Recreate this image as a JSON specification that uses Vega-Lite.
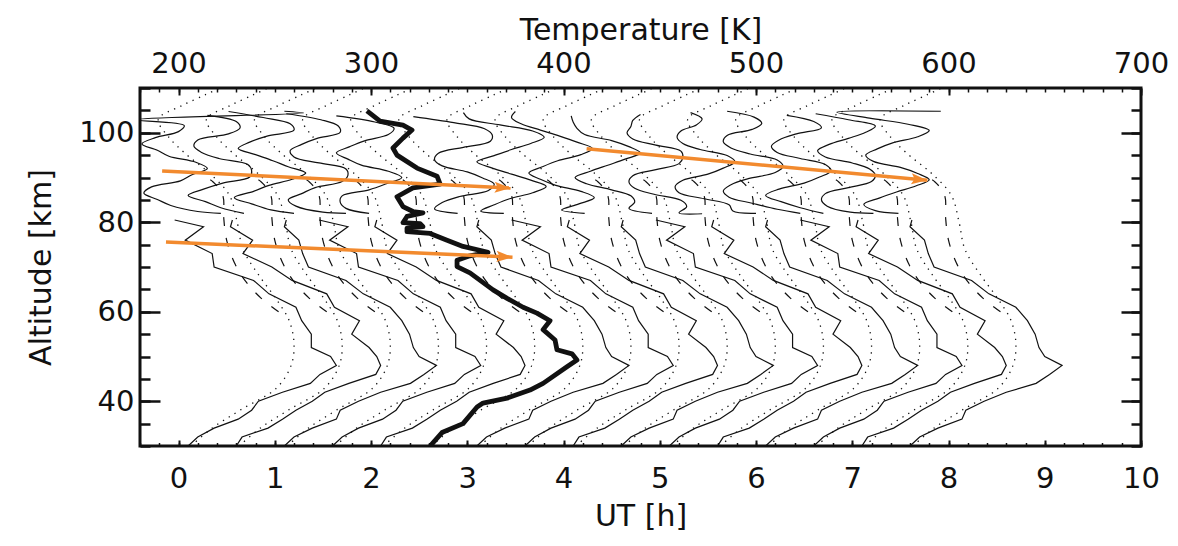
{
  "$schema": "https://vega.github.io/schema/vega-lite/v6.json",
  "width": 1001,
  "height": 358,
  "autosize": {"type": "none"},
  "padding": {"left": 140, "top": 88, "right": 37, "bottom": 100},
  "background": "white",
  "config": {
    "view": {"stroke": "#111111", "strokeWidth": 3},
    "font": "DejaVu Sans",
    "axis": {
      "domain": false, "grid": false,
      "labelFont": "DejaVu Sans", "titleFont": "DejaVu Sans",
      "labelFontSize": 29, "titleFontSize": 30, "titleFontWeight": "normal",
      "labelColor": "#111111", "titleColor": "#111111", "tickColor": "#111111",
      "labelFlush": false, "labelOverlap": false
    }
  },
  "datasets": {
    "dot": [
      {"p":0,"a":30,"t":206.5},{"p":0,"a":34,"t":217.5},{"p":0,"a":38,"t":232},{"p":0,"a":43,"t":251},{"p":0,"a":48,"t":258.5},{"p":0,"a":53,"t":260},{"p":0,"a":58,"t":257.5},{"p":0,"a":63,"t":250.5},{"p":0,"a":68,"t":242},{"p":0,"a":74,"t":233.5},{"p":0,"a":80,"t":230.5},{"p":0,"a":86,"t":226.5},{"p":0,"a":91,"t":216},{"p":0,"a":95,"t":204.5},{"p":0,"a":99,"t":195},{"p":0,"a":103,"t":189.5},{"p":0,"a":106,"t":201.5},{"p":0,"a":108.5,"t":214},{"p":0,"a":110,"t":221.5},
      {"p":1,"a":30,"t":231.5},{"p":1,"a":34,"t":242.5},{"p":1,"a":38,"t":257},{"p":1,"a":43,"t":276},{"p":1,"a":48,"t":283.5},{"p":1,"a":53,"t":285},{"p":1,"a":58,"t":282.5},{"p":1,"a":63,"t":275.5},{"p":1,"a":68,"t":267},{"p":1,"a":74,"t":258.5},{"p":1,"a":80,"t":255.5},{"p":1,"a":86,"t":251.5},{"p":1,"a":91,"t":241},{"p":1,"a":95,"t":229.5},{"p":1,"a":99,"t":220},{"p":1,"a":103,"t":214.5},{"p":1,"a":106,"t":226.5},{"p":1,"a":108.5,"t":239},{"p":1,"a":110,"t":246.5},
      {"p":2,"a":30,"t":256.5},{"p":2,"a":34,"t":267.5},{"p":2,"a":38,"t":282},{"p":2,"a":43,"t":301},{"p":2,"a":48,"t":308.5},{"p":2,"a":53,"t":310},{"p":2,"a":58,"t":307.5},{"p":2,"a":63,"t":300.5},{"p":2,"a":68,"t":292},{"p":2,"a":74,"t":283.5},{"p":2,"a":80,"t":280.5},{"p":2,"a":86,"t":276.5},{"p":2,"a":91,"t":266},{"p":2,"a":95,"t":254.5},{"p":2,"a":99,"t":245},{"p":2,"a":103,"t":239.5},{"p":2,"a":106,"t":251.5},{"p":2,"a":108.5,"t":264},{"p":2,"a":110,"t":271.5},
      {"p":3,"a":30,"t":281.5},{"p":3,"a":34,"t":292.5},{"p":3,"a":38,"t":307},{"p":3,"a":43,"t":326},{"p":3,"a":48,"t":333.5},{"p":3,"a":53,"t":335},{"p":3,"a":58,"t":332.5},{"p":3,"a":63,"t":325.5},{"p":3,"a":68,"t":317},{"p":3,"a":74,"t":308.5},{"p":3,"a":80,"t":305.5},{"p":3,"a":86,"t":301.5},{"p":3,"a":91,"t":291},{"p":3,"a":95,"t":279.5},{"p":3,"a":99,"t":270},{"p":3,"a":103,"t":264.5},{"p":3,"a":106,"t":276.5},{"p":3,"a":108.5,"t":289},{"p":3,"a":110,"t":296.5},
      {"p":4,"a":30,"t":306.5},{"p":4,"a":34,"t":317.5},{"p":4,"a":38,"t":332},{"p":4,"a":43,"t":351},{"p":4,"a":48,"t":358.5},{"p":4,"a":53,"t":360},{"p":4,"a":58,"t":357.5},{"p":4,"a":63,"t":350.5},{"p":4,"a":68,"t":342},{"p":4,"a":74,"t":333.5},{"p":4,"a":80,"t":330.5},{"p":4,"a":86,"t":326.5},{"p":4,"a":91,"t":316},{"p":4,"a":95,"t":304.5},{"p":4,"a":99,"t":295},{"p":4,"a":103,"t":289.5},{"p":4,"a":106,"t":301.5},{"p":4,"a":108.5,"t":314},{"p":4,"a":110,"t":321.5},
      {"p":5,"a":30,"t":331.5},{"p":5,"a":34,"t":342.5},{"p":5,"a":38,"t":357},{"p":5,"a":43,"t":376},{"p":5,"a":48,"t":383.5},{"p":5,"a":53,"t":385},{"p":5,"a":58,"t":382.5},{"p":5,"a":63,"t":375.5},{"p":5,"a":68,"t":367},{"p":5,"a":74,"t":358.5},{"p":5,"a":80,"t":355.5},{"p":5,"a":86,"t":351.5},{"p":5,"a":91,"t":341},{"p":5,"a":95,"t":329.5},{"p":5,"a":99,"t":320},{"p":5,"a":103,"t":314.5},{"p":5,"a":106,"t":326.5},{"p":5,"a":108.5,"t":339},{"p":5,"a":110,"t":346.5},
      {"p":6,"a":30,"t":356.5},{"p":6,"a":34,"t":367.5},{"p":6,"a":38,"t":382},{"p":6,"a":43,"t":401},{"p":6,"a":48,"t":408.5},{"p":6,"a":53,"t":410},{"p":6,"a":58,"t":407.5},{"p":6,"a":63,"t":400.5},{"p":6,"a":68,"t":392},{"p":6,"a":74,"t":383.5},{"p":6,"a":80,"t":380.5},{"p":6,"a":86,"t":376.5},{"p":6,"a":91,"t":366},{"p":6,"a":95,"t":354.5},{"p":6,"a":99,"t":345},{"p":6,"a":103,"t":339.5},{"p":6,"a":106,"t":351.5},{"p":6,"a":108.5,"t":364},{"p":6,"a":110,"t":371.5},
      {"p":7,"a":30,"t":381.5},{"p":7,"a":34,"t":392.5},{"p":7,"a":38,"t":407},{"p":7,"a":43,"t":426},{"p":7,"a":48,"t":433.5},{"p":7,"a":53,"t":435},{"p":7,"a":58,"t":432.5},{"p":7,"a":63,"t":425.5},{"p":7,"a":68,"t":417},{"p":7,"a":74,"t":408.5},{"p":7,"a":80,"t":405.5},{"p":7,"a":86,"t":401.5},{"p":7,"a":91,"t":391},{"p":7,"a":95,"t":379.5},{"p":7,"a":99,"t":370},{"p":7,"a":103,"t":364.5},{"p":7,"a":106,"t":376.5},{"p":7,"a":108.5,"t":389},{"p":7,"a":110,"t":396.5},
      {"p":8,"a":30,"t":406.5},{"p":8,"a":34,"t":417.5},{"p":8,"a":38,"t":432},{"p":8,"a":43,"t":451},{"p":8,"a":48,"t":458.5},{"p":8,"a":53,"t":460},{"p":8,"a":58,"t":457.5},{"p":8,"a":63,"t":450.5},{"p":8,"a":68,"t":442},{"p":8,"a":74,"t":433.5},{"p":8,"a":80,"t":430.5},{"p":8,"a":86,"t":426.5},{"p":8,"a":91,"t":416},{"p":8,"a":95,"t":404.5},{"p":8,"a":99,"t":395},{"p":8,"a":103,"t":389.5},{"p":8,"a":106,"t":401.5},{"p":8,"a":108.5,"t":414},{"p":8,"a":110,"t":421.5},
      {"p":9,"a":30,"t":431.5},{"p":9,"a":34,"t":442.5},{"p":9,"a":38,"t":457},{"p":9,"a":43,"t":476},{"p":9,"a":48,"t":483.5},{"p":9,"a":53,"t":485},{"p":9,"a":58,"t":482.5},{"p":9,"a":63,"t":475.5},{"p":9,"a":68,"t":467},{"p":9,"a":74,"t":458.5},{"p":9,"a":80,"t":455.5},{"p":9,"a":86,"t":451.5},{"p":9,"a":91,"t":441},{"p":9,"a":95,"t":429.5},{"p":9,"a":99,"t":420},{"p":9,"a":103,"t":414.5},{"p":9,"a":106,"t":426.5},{"p":9,"a":108.5,"t":439},{"p":9,"a":110,"t":446.5},
      {"p":10,"a":30,"t":456.5},{"p":10,"a":34,"t":467.5},{"p":10,"a":38,"t":482},{"p":10,"a":43,"t":501},{"p":10,"a":48,"t":508.5},{"p":10,"a":53,"t":510},{"p":10,"a":58,"t":507.5},{"p":10,"a":63,"t":500.5},{"p":10,"a":68,"t":492},{"p":10,"a":74,"t":483.5},{"p":10,"a":80,"t":480.5},{"p":10,"a":86,"t":476.5},{"p":10,"a":91,"t":466},{"p":10,"a":95,"t":454.5},{"p":10,"a":99,"t":445},{"p":10,"a":103,"t":439.5},{"p":10,"a":106,"t":451.5},{"p":10,"a":108.5,"t":464},{"p":10,"a":110,"t":471.5},
      {"p":11,"a":30,"t":481.5},{"p":11,"a":34,"t":492.5},{"p":11,"a":38,"t":507},{"p":11,"a":43,"t":526},{"p":11,"a":48,"t":533.5},{"p":11,"a":53,"t":535},{"p":11,"a":58,"t":532.5},{"p":11,"a":63,"t":525.5},{"p":11,"a":68,"t":517},{"p":11,"a":74,"t":508.5},{"p":11,"a":80,"t":505.5},{"p":11,"a":86,"t":501.5},{"p":11,"a":91,"t":491},{"p":11,"a":95,"t":479.5},{"p":11,"a":99,"t":470},{"p":11,"a":103,"t":464.5},{"p":11,"a":106,"t":476.5},{"p":11,"a":108.5,"t":489},{"p":11,"a":110,"t":496.5},
      {"p":12,"a":30,"t":506.5},{"p":12,"a":34,"t":517.5},{"p":12,"a":38,"t":532},{"p":12,"a":43,"t":551},{"p":12,"a":48,"t":558.5},{"p":12,"a":53,"t":560},{"p":12,"a":58,"t":557.5},{"p":12,"a":63,"t":550.5},{"p":12,"a":68,"t":542},{"p":12,"a":74,"t":533.5},{"p":12,"a":80,"t":530.5},{"p":12,"a":86,"t":526.5},{"p":12,"a":91,"t":516},{"p":12,"a":95,"t":504.5},{"p":12,"a":99,"t":495},{"p":12,"a":103,"t":489.5},{"p":12,"a":106,"t":501.5},{"p":12,"a":108.5,"t":514},{"p":12,"a":110,"t":521.5},
      {"p":13,"a":30,"t":531.5},{"p":13,"a":34,"t":542.5},{"p":13,"a":38,"t":557},{"p":13,"a":43,"t":576},{"p":13,"a":48,"t":583.5},{"p":13,"a":53,"t":585},{"p":13,"a":58,"t":582.5},{"p":13,"a":63,"t":575.5},{"p":13,"a":68,"t":567},{"p":13,"a":74,"t":558.5},{"p":13,"a":80,"t":555.5},{"p":13,"a":86,"t":551.5},{"p":13,"a":91,"t":541},{"p":13,"a":95,"t":529.5},{"p":13,"a":99,"t":520},{"p":13,"a":103,"t":514.5},{"p":13,"a":106,"t":526.5},{"p":13,"a":108.5,"t":539},{"p":13,"a":110,"t":546.5},
      {"p":14,"a":30,"t":556.5},{"p":14,"a":34,"t":567.5},{"p":14,"a":38,"t":582},{"p":14,"a":43,"t":601},{"p":14,"a":48,"t":608.5},{"p":14,"a":53,"t":610},{"p":14,"a":58,"t":607.5},{"p":14,"a":63,"t":600.5},{"p":14,"a":68,"t":592},{"p":14,"a":74,"t":583.5},{"p":14,"a":80,"t":580.5},{"p":14,"a":86,"t":576.5},{"p":14,"a":91,"t":566},{"p":14,"a":95,"t":554.5},{"p":14,"a":99,"t":545},{"p":14,"a":103,"t":539.5},{"p":14,"a":106,"t":551.5},{"p":14,"a":108.5,"t":564},{"p":14,"a":110,"t":571.5},
      {"p":15,"a":30,"t":581.5},{"p":15,"a":34,"t":592.5},{"p":15,"a":38,"t":607},{"p":15,"a":43,"t":626},{"p":15,"a":48,"t":633.5},{"p":15,"a":53,"t":635},{"p":15,"a":58,"t":632.5},{"p":15,"a":63,"t":625.5},{"p":15,"a":68,"t":617},{"p":15,"a":74,"t":608.5},{"p":15,"a":80,"t":605.5},{"p":15,"a":86,"t":601.5},{"p":15,"a":91,"t":591},{"p":15,"a":95,"t":579.5},{"p":15,"a":99,"t":570},{"p":15,"a":103,"t":564.5},{"p":15,"a":106,"t":576.5},{"p":15,"a":108.5,"t":589},{"p":15,"a":110,"t":596.5}
    ],
    "dash": [
      {"p":0,"a":60,"t":252},{"p":0,"a":63,"t":243},{"p":0,"a":67,"t":234.5},{"p":0,"a":71,"t":229},{"p":0,"a":76,"t":225},{"p":0,"a":81,"t":223.5},{"p":0,"a":86,"t":223},{"p":0,"a":89,"t":218},{"p":0,"a":90.5,"t":212},
      {"p":1,"a":60,"t":277},{"p":1,"a":63,"t":268},{"p":1,"a":67,"t":259.5},{"p":1,"a":71,"t":254},{"p":1,"a":76,"t":250},{"p":1,"a":81,"t":248.5},{"p":1,"a":86,"t":248},{"p":1,"a":89,"t":243},{"p":1,"a":90.5,"t":237},
      {"p":2,"a":60,"t":302},{"p":2,"a":63,"t":293},{"p":2,"a":67,"t":284.5},{"p":2,"a":71,"t":279},{"p":2,"a":76,"t":275},{"p":2,"a":81,"t":273.5},{"p":2,"a":86,"t":273},{"p":2,"a":89,"t":268},{"p":2,"a":90.5,"t":262},
      {"p":3,"a":60,"t":327},{"p":3,"a":63,"t":318},{"p":3,"a":67,"t":309.5},{"p":3,"a":71,"t":304},{"p":3,"a":76,"t":300},{"p":3,"a":81,"t":298.5},{"p":3,"a":86,"t":298},{"p":3,"a":89,"t":293},{"p":3,"a":90.5,"t":287},
      {"p":4,"a":60,"t":352},{"p":4,"a":63,"t":343},{"p":4,"a":67,"t":334.5},{"p":4,"a":71,"t":329},{"p":4,"a":76,"t":325},{"p":4,"a":81,"t":323.5},{"p":4,"a":86,"t":323},{"p":4,"a":89,"t":318},{"p":4,"a":90.5,"t":312},
      {"p":5,"a":60,"t":377},{"p":5,"a":63,"t":368},{"p":5,"a":67,"t":359.5},{"p":5,"a":71,"t":354},{"p":5,"a":76,"t":350},{"p":5,"a":81,"t":348.5},{"p":5,"a":86,"t":348},{"p":5,"a":89,"t":343},{"p":5,"a":90.5,"t":337},
      {"p":6,"a":60,"t":402},{"p":6,"a":63,"t":393},{"p":6,"a":67,"t":384.5},{"p":6,"a":71,"t":379},{"p":6,"a":76,"t":375},{"p":6,"a":81,"t":373.5},{"p":6,"a":86,"t":373},{"p":6,"a":89,"t":368},{"p":6,"a":90.5,"t":362},
      {"p":7,"a":60,"t":427},{"p":7,"a":63,"t":418},{"p":7,"a":67,"t":409.5},{"p":7,"a":71,"t":404},{"p":7,"a":76,"t":400},{"p":7,"a":81,"t":398.5},{"p":7,"a":86,"t":398},{"p":7,"a":89,"t":393},{"p":7,"a":90.5,"t":387},
      {"p":8,"a":60,"t":452},{"p":8,"a":63,"t":443},{"p":8,"a":67,"t":434.5},{"p":8,"a":71,"t":429},{"p":8,"a":76,"t":425},{"p":8,"a":81,"t":423.5},{"p":8,"a":86,"t":423},{"p":8,"a":89,"t":418},{"p":8,"a":90.5,"t":412},
      {"p":9,"a":60,"t":477},{"p":9,"a":63,"t":468},{"p":9,"a":67,"t":459.5},{"p":9,"a":71,"t":454},{"p":9,"a":76,"t":450},{"p":9,"a":81,"t":448.5},{"p":9,"a":86,"t":448},{"p":9,"a":89,"t":443},{"p":9,"a":90.5,"t":437},
      {"p":10,"a":60,"t":502},{"p":10,"a":63,"t":493},{"p":10,"a":67,"t":484.5},{"p":10,"a":71,"t":479},{"p":10,"a":76,"t":475},{"p":10,"a":81,"t":473.5},{"p":10,"a":86,"t":473},{"p":10,"a":89,"t":468},{"p":10,"a":90.5,"t":462},
      {"p":11,"a":60,"t":527},{"p":11,"a":63,"t":518},{"p":11,"a":67,"t":509.5},{"p":11,"a":71,"t":504},{"p":11,"a":76,"t":500},{"p":11,"a":81,"t":498.5},{"p":11,"a":86,"t":498},{"p":11,"a":89,"t":493},{"p":11,"a":90.5,"t":487},
      {"p":12,"a":60,"t":552},{"p":12,"a":63,"t":543},{"p":12,"a":67,"t":534.5},{"p":12,"a":71,"t":529},{"p":12,"a":76,"t":525},{"p":12,"a":81,"t":523.5},{"p":12,"a":86,"t":523},{"p":12,"a":89,"t":518},{"p":12,"a":90.5,"t":512},
      {"p":13,"a":60,"t":577},{"p":13,"a":63,"t":568},{"p":13,"a":67,"t":559.5},{"p":13,"a":71,"t":554},{"p":13,"a":76,"t":550},{"p":13,"a":81,"t":548.5},{"p":13,"a":86,"t":548},{"p":13,"a":89,"t":543},{"p":13,"a":90.5,"t":537},
      {"p":14,"a":60,"t":602},{"p":14,"a":63,"t":593},{"p":14,"a":67,"t":584.5},{"p":14,"a":71,"t":579},{"p":14,"a":76,"t":575},{"p":14,"a":81,"t":573.5},{"p":14,"a":86,"t":573},{"p":14,"a":89,"t":568},{"p":14,"a":90.5,"t":562},
      {"p":15,"a":60,"t":627},{"p":15,"a":63,"t":618},{"p":15,"a":67,"t":609.5},{"p":15,"a":71,"t":604},{"p":15,"a":76,"t":600},{"p":15,"a":81,"t":598.5},{"p":15,"a":86,"t":598},{"p":15,"a":89,"t":593},{"p":15,"a":90.5,"t":587}
    ],
    "lower": [
      {"p":0,"a":30,"t":205},{"p":0,"a":32,"t":210},{"p":0,"a":34,"t":218.5},{"p":0,"a":36,"t":231},{"p":0,"a":38,"t":238},{"p":0,"a":40,"t":241.5},{"p":0,"a":42,"t":254},{"p":0,"a":44,"t":268.5},{"p":0,"a":46,"t":273.5},{"p":0,"a":48,"t":282},{"p":0,"a":50,"t":279},{"p":0,"a":52,"t":269},{"p":0,"a":55,"t":269},{"p":0,"a":58,"t":264},{"p":0,"a":61,"t":261},{"p":0,"a":64,"t":247},{"p":0,"a":67,"t":239},{"p":0,"a":70,"t":218.5},{"p":0,"a":73,"t":217.5},{"p":0,"a":76,"t":203.5},{"p":0,"a":79,"t":213},{"p":0,"a":80.5,"t":198},
      {"p":1,"a":30,"t":230},{"p":1,"a":32,"t":233},{"p":1,"a":34,"t":246.5},{"p":1,"a":36,"t":254},{"p":1,"a":38,"t":261},{"p":1,"a":40,"t":269.5},{"p":1,"a":42,"t":276},{"p":1,"a":44,"t":288.5},{"p":1,"a":46,"t":302.5},{"p":1,"a":48,"t":305},{"p":1,"a":50,"t":303},{"p":1,"a":52,"t":299},{"p":1,"a":55,"t":290},{"p":1,"a":58,"t":294},{"p":1,"a":61,"t":281},{"p":1,"a":64,"t":277},{"p":1,"a":67,"t":259},{"p":1,"a":70,"t":248.5},{"p":1,"a":73,"t":233.5},{"p":1,"a":76,"t":238.5},{"p":1,"a":79,"t":227},{"p":1,"a":80.5,"t":228},
      {"p":2,"a":30,"t":255},{"p":2,"a":32,"t":260},{"p":2,"a":34,"t":269.5},{"p":2,"a":36,"t":282},{"p":2,"a":38,"t":284},{"p":2,"a":40,"t":293.5},{"p":2,"a":42,"t":305},{"p":2,"a":44,"t":320.5},{"p":2,"a":46,"t":327.5},{"p":2,"a":48,"t":334},{"p":2,"a":50,"t":325},{"p":2,"a":52,"t":322},{"p":2,"a":55,"t":320},{"p":2,"a":58,"t":316},{"p":2,"a":61,"t":310},{"p":2,"a":64,"t":296},{"p":2,"a":67,"t":287},{"p":2,"a":70,"t":267.5},{"p":2,"a":73,"t":264.5},{"p":2,"a":76,"t":262.5},{"p":2,"a":79,"t":255},{"p":2,"a":80.5,"t":256},
      {"p":3,"a":30,"t":280},{"p":3,"a":32,"t":285},{"p":3,"a":34,"t":293.5},{"p":3,"a":36,"t":306},{"p":3,"a":38,"t":313},{"p":3,"a":40,"t":316.5},{"p":3,"a":42,"t":329},{"p":3,"a":44,"t":343.5},{"p":3,"a":46,"t":348.5},{"p":3,"a":48,"t":357},{"p":3,"a":50,"t":354},{"p":3,"a":52,"t":344},{"p":3,"a":55,"t":344},{"p":3,"a":58,"t":339},{"p":3,"a":61,"t":336},{"p":3,"a":64,"t":322},{"p":3,"a":67,"t":314},{"p":3,"a":70,"t":293.5},{"p":3,"a":73,"t":292.5},{"p":3,"a":76,"t":278.5},{"p":3,"a":79,"t":288},{"p":3,"a":80.5,"t":273},
      {"p":4,"a":30,"t":305},{"p":4,"a":32,"t":308},{"p":4,"a":34,"t":321.5},{"p":4,"a":36,"t":329},{"p":4,"a":38,"t":336},{"p":4,"a":40,"t":344.5},{"p":4,"a":42,"t":351},{"p":4,"a":44,"t":363.5},{"p":4,"a":46,"t":377.5},{"p":4,"a":48,"t":380},{"p":4,"a":50,"t":378},{"p":4,"a":52,"t":374},{"p":4,"a":55,"t":365},{"p":4,"a":58,"t":369},{"p":4,"a":61,"t":356},{"p":4,"a":64,"t":352},{"p":4,"a":67,"t":334},{"p":4,"a":70,"t":323.5},{"p":4,"a":73,"t":308.5},{"p":4,"a":76,"t":313.5},{"p":4,"a":79,"t":302},{"p":4,"a":80.5,"t":303},
      {"p":6,"a":30,"t":355},{"p":6,"a":32,"t":360},{"p":6,"a":34,"t":369.5},{"p":6,"a":36,"t":382},{"p":6,"a":38,"t":384},{"p":6,"a":40,"t":393.5},{"p":6,"a":42,"t":405},{"p":6,"a":44,"t":420.5},{"p":6,"a":46,"t":427.5},{"p":6,"a":48,"t":434},{"p":6,"a":50,"t":425},{"p":6,"a":52,"t":422},{"p":6,"a":55,"t":420},{"p":6,"a":58,"t":416},{"p":6,"a":61,"t":410},{"p":6,"a":64,"t":396},{"p":6,"a":67,"t":387},{"p":6,"a":70,"t":367.5},{"p":6,"a":73,"t":364.5},{"p":6,"a":76,"t":362.5},{"p":6,"a":79,"t":355},{"p":6,"a":80.5,"t":356},
      {"p":7,"a":30,"t":380},{"p":7,"a":32,"t":385},{"p":7,"a":34,"t":393.5},{"p":7,"a":36,"t":406},{"p":7,"a":38,"t":413},{"p":7,"a":40,"t":416.5},{"p":7,"a":42,"t":429},{"p":7,"a":44,"t":443.5},{"p":7,"a":46,"t":448.5},{"p":7,"a":48,"t":457},{"p":7,"a":50,"t":454},{"p":7,"a":52,"t":444},{"p":7,"a":55,"t":444},{"p":7,"a":58,"t":439},{"p":7,"a":61,"t":436},{"p":7,"a":64,"t":422},{"p":7,"a":67,"t":414},{"p":7,"a":70,"t":393.5},{"p":7,"a":73,"t":392.5},{"p":7,"a":76,"t":378.5},{"p":7,"a":79,"t":388},{"p":7,"a":80.5,"t":373},
      {"p":8,"a":30,"t":405},{"p":8,"a":32,"t":408},{"p":8,"a":34,"t":421.5},{"p":8,"a":36,"t":429},{"p":8,"a":38,"t":436},{"p":8,"a":40,"t":444.5},{"p":8,"a":42,"t":451},{"p":8,"a":44,"t":463.5},{"p":8,"a":46,"t":477.5},{"p":8,"a":48,"t":480},{"p":8,"a":50,"t":478},{"p":8,"a":52,"t":474},{"p":8,"a":55,"t":465},{"p":8,"a":58,"t":469},{"p":8,"a":61,"t":456},{"p":8,"a":64,"t":452},{"p":8,"a":67,"t":434},{"p":8,"a":70,"t":423.5},{"p":8,"a":73,"t":408.5},{"p":8,"a":76,"t":413.5},{"p":8,"a":79,"t":402},{"p":8,"a":80.5,"t":403},
      {"p":9,"a":30,"t":430},{"p":9,"a":32,"t":435},{"p":9,"a":34,"t":444.5},{"p":9,"a":36,"t":457},{"p":9,"a":38,"t":459},{"p":9,"a":40,"t":468.5},{"p":9,"a":42,"t":480},{"p":9,"a":44,"t":495.5},{"p":9,"a":46,"t":502.5},{"p":9,"a":48,"t":509},{"p":9,"a":50,"t":500},{"p":9,"a":52,"t":497},{"p":9,"a":55,"t":495},{"p":9,"a":58,"t":491},{"p":9,"a":61,"t":485},{"p":9,"a":64,"t":471},{"p":9,"a":67,"t":462},{"p":9,"a":70,"t":442.5},{"p":9,"a":73,"t":439.5},{"p":9,"a":76,"t":437.5},{"p":9,"a":79,"t":430},{"p":9,"a":80.5,"t":431},
      {"p":10,"a":30,"t":455},{"p":10,"a":32,"t":460},{"p":10,"a":34,"t":468.5},{"p":10,"a":36,"t":481},{"p":10,"a":38,"t":488},{"p":10,"a":40,"t":491.5},{"p":10,"a":42,"t":504},{"p":10,"a":44,"t":518.5},{"p":10,"a":46,"t":523.5},{"p":10,"a":48,"t":532},{"p":10,"a":50,"t":529},{"p":10,"a":52,"t":519},{"p":10,"a":55,"t":519},{"p":10,"a":58,"t":514},{"p":10,"a":61,"t":511},{"p":10,"a":64,"t":497},{"p":10,"a":67,"t":489},{"p":10,"a":70,"t":468.5},{"p":10,"a":73,"t":467.5},{"p":10,"a":76,"t":453.5},{"p":10,"a":79,"t":463},{"p":10,"a":80.5,"t":448},
      {"p":11,"a":30,"t":480},{"p":11,"a":32,"t":483},{"p":11,"a":34,"t":496.5},{"p":11,"a":36,"t":504},{"p":11,"a":38,"t":511},{"p":11,"a":40,"t":519.5},{"p":11,"a":42,"t":526},{"p":11,"a":44,"t":538.5},{"p":11,"a":46,"t":552.5},{"p":11,"a":48,"t":555},{"p":11,"a":50,"t":553},{"p":11,"a":52,"t":549},{"p":11,"a":55,"t":540},{"p":11,"a":58,"t":544},{"p":11,"a":61,"t":531},{"p":11,"a":64,"t":527},{"p":11,"a":67,"t":509},{"p":11,"a":70,"t":498.5},{"p":11,"a":73,"t":483.5},{"p":11,"a":76,"t":488.5},{"p":11,"a":79,"t":477},{"p":11,"a":80.5,"t":478},
      {"p":12,"a":30,"t":505},{"p":12,"a":32,"t":510},{"p":12,"a":34,"t":519.5},{"p":12,"a":36,"t":532},{"p":12,"a":38,"t":534},{"p":12,"a":40,"t":543.5},{"p":12,"a":42,"t":555},{"p":12,"a":44,"t":570.5},{"p":12,"a":46,"t":577.5},{"p":12,"a":48,"t":584},{"p":12,"a":50,"t":575},{"p":12,"a":52,"t":572},{"p":12,"a":55,"t":570},{"p":12,"a":58,"t":566},{"p":12,"a":61,"t":560},{"p":12,"a":64,"t":546},{"p":12,"a":67,"t":537},{"p":12,"a":70,"t":517.5},{"p":12,"a":73,"t":514.5},{"p":12,"a":76,"t":512.5},{"p":12,"a":79,"t":505},{"p":12,"a":80.5,"t":506},
      {"p":13,"a":30,"t":530},{"p":13,"a":32,"t":535},{"p":13,"a":34,"t":543.5},{"p":13,"a":36,"t":556},{"p":13,"a":38,"t":563},{"p":13,"a":40,"t":566.5},{"p":13,"a":42,"t":579},{"p":13,"a":44,"t":593.5},{"p":13,"a":46,"t":598.5},{"p":13,"a":48,"t":607},{"p":13,"a":50,"t":604},{"p":13,"a":52,"t":594},{"p":13,"a":55,"t":594},{"p":13,"a":58,"t":589},{"p":13,"a":61,"t":586},{"p":13,"a":64,"t":572},{"p":13,"a":67,"t":564},{"p":13,"a":70,"t":543.5},{"p":13,"a":73,"t":542.5},{"p":13,"a":76,"t":528.5},{"p":13,"a":79,"t":538},{"p":13,"a":80.5,"t":523},
      {"p":14,"a":30,"t":555},{"p":14,"a":32,"t":558},{"p":14,"a":34,"t":571.5},{"p":14,"a":36,"t":579},{"p":14,"a":38,"t":586},{"p":14,"a":40,"t":594.5},{"p":14,"a":42,"t":601},{"p":14,"a":44,"t":613.5},{"p":14,"a":46,"t":627.5},{"p":14,"a":48,"t":630},{"p":14,"a":50,"t":628},{"p":14,"a":52,"t":624},{"p":14,"a":55,"t":615},{"p":14,"a":58,"t":619},{"p":14,"a":61,"t":606},{"p":14,"a":64,"t":602},{"p":14,"a":67,"t":584},{"p":14,"a":70,"t":573.5},{"p":14,"a":73,"t":558.5},{"p":14,"a":76,"t":563.5},{"p":14,"a":79,"t":552},{"p":14,"a":80.5,"t":553},
      {"p":15,"a":30,"t":580},{"p":15,"a":32,"t":585},{"p":15,"a":34,"t":594.5},{"p":15,"a":36,"t":607},{"p":15,"a":38,"t":609},{"p":15,"a":40,"t":618.5},{"p":15,"a":42,"t":630},{"p":15,"a":44,"t":645.5},{"p":15,"a":46,"t":652.5},{"p":15,"a":48,"t":659},{"p":15,"a":50,"t":650},{"p":15,"a":52,"t":647},{"p":15,"a":55,"t":645},{"p":15,"a":58,"t":641},{"p":15,"a":61,"t":635},{"p":15,"a":64,"t":621},{"p":15,"a":67,"t":612},{"p":15,"a":70,"t":592.5},{"p":15,"a":73,"t":589.5},{"p":15,"a":76,"t":587.5},{"p":15,"a":79,"t":580},{"p":15,"a":80.5,"t":581}
    ],
    "upper": [
      {"p":0,"a":82,"t":222},{"p":0,"a":82.4,"t":210},{"p":0,"a":83.75,"t":196},{"p":0,"a":85.1,"t":189},{"p":0,"a":86.5,"t":182},{"p":0,"a":87.9,"t":186},{"p":0,"a":89.25,"t":201},{"p":0,"a":90.6,"t":207},{"p":0,"a":92,"t":215},{"p":0,"a":93.4,"t":209},{"p":0,"a":94.75,"t":195},{"p":0,"a":96.1,"t":189},{"p":0,"a":97.5,"t":181},{"p":0,"a":98.9,"t":188},{"p":0,"a":100.25,"t":200},{"p":0,"a":101.6,"t":203},{"p":0,"a":102.9,"t":178},{"p":0,"a":104.4,"t":265},{"p":0,"a":104.8,"t":255},
      {"p":1,"a":82,"t":234},{"p":1,"a":83.25,"t":222},{"p":1,"a":84.6,"t":214},{"p":1,"a":86,"t":205},{"p":1,"a":87.4,"t":213},{"p":1,"a":88.75,"t":223},{"p":1,"a":90.1,"t":237},{"p":1,"a":91.5,"t":238},{"p":1,"a":92.9,"t":236},{"p":1,"a":94.25,"t":221},{"p":1,"a":95.6,"t":212},{"p":1,"a":97,"t":208},{"p":1,"a":98.4,"t":210},{"p":1,"a":99.75,"t":226},{"p":1,"a":101.1,"t":232},{"p":1,"a":102.5,"t":230},{"p":1,"a":103.9,"t":215},
      {"p":2,"a":82,"t":260},{"p":2,"a":82.75,"t":248},{"p":2,"a":84.1,"t":238},{"p":2,"a":85.5,"t":229},{"p":2,"a":86.9,"t":239},{"p":2,"a":88.25,"t":247},{"p":2,"a":89.6,"t":259},{"p":2,"a":91,"t":266},{"p":2,"a":92.4,"t":257},{"p":2,"a":93.75,"t":249},{"p":2,"a":95.1,"t":240},{"p":2,"a":96.5,"t":231},{"p":2,"a":97.9,"t":237},{"p":2,"a":99.25,"t":246},{"p":2,"a":100.6,"t":260},{"p":2,"a":102,"t":258},{"p":2,"a":103.4,"t":244},{"p":2,"a":104.75,"t":226},
      {"p":3,"a":82,"t":287},{"p":3,"a":82.25,"t":275},{"p":3,"a":83.6,"t":261},{"p":3,"a":85,"t":257},{"p":3,"a":86.4,"t":264},{"p":3,"a":87.75,"t":271},{"p":3,"a":89.1,"t":285},{"p":3,"a":90.5,"t":288},{"p":3,"a":91.9,"t":287},{"p":3,"a":93.25,"t":273},{"p":3,"a":94.6,"t":260},{"p":3,"a":96,"t":258},{"p":3,"a":97.4,"t":264},{"p":3,"a":98.75,"t":272},{"p":3,"a":100.1,"t":284},{"p":3,"a":101.5,"t":283},{"p":3,"a":102.9,"t":274},{"p":3,"a":104.25,"t":256},
      {"p":4,"a":82,"t":299},{"p":4,"a":83.1,"t":287},{"p":4,"a":84.5,"t":284},{"p":4,"a":85.9,"t":285},{"p":4,"a":87.25,"t":299},{"p":4,"a":88.6,"t":308},{"p":4,"a":90,"t":316},{"p":4,"a":91.4,"t":309},{"p":4,"a":92.75,"t":295},{"p":4,"a":94.1,"t":288},{"p":4,"a":95.5,"t":282},{"p":4,"a":96.9,"t":289},{"p":4,"a":98.25,"t":297},{"p":4,"a":99.6,"t":309},{"p":4,"a":101,"t":312},{"p":4,"a":102.4,"t":302},{"p":4,"a":103.75,"t":282},
      {"p":6,"a":82,"t":345},{"p":6,"a":83,"t":333},{"p":6,"a":84.4,"t":337},{"p":6,"a":85.75,"t":346},{"p":6,"a":87.1,"t":361},{"p":6,"a":88.5,"t":364},{"p":6,"a":89.9,"t":358},{"p":6,"a":91.25,"t":350},{"p":6,"a":92.6,"t":337},{"p":6,"a":94,"t":333},{"p":6,"a":95.4,"t":335},{"p":6,"a":96.75,"t":348},{"p":6,"a":98.1,"t":362},{"p":6,"a":99.5,"t":363},{"p":6,"a":100.9,"t":359},{"p":6,"a":102.25,"t":343},{"p":6,"a":103.6,"t":322},
      {"p":7,"a":82,"t":369},{"p":7,"a":82.5,"t":357},{"p":7,"a":83.9,"t":364},{"p":7,"a":85.25,"t":372},{"p":7,"a":86.6,"t":384},{"p":7,"a":88,"t":391},{"p":7,"a":89.4,"t":383},{"p":7,"a":90.75,"t":373},{"p":7,"a":92.1,"t":363},{"p":7,"a":93.5,"t":355},{"p":7,"a":94.9,"t":364},{"p":7,"a":96.25,"t":373},{"p":7,"a":97.6,"t":383},{"p":7,"a":99,"t":390},{"p":7,"a":100.4,"t":384},{"p":7,"a":101.75,"t":367},{"p":7,"a":103.1,"t":351},{"p":7,"a":104.5,"t":348},
      {"p":8,"a":82,"t":411},{"p":8,"a":82.75,"t":399},{"p":8,"a":84.1,"t":408},{"p":8,"a":85.5,"t":416},{"p":8,"a":86.9,"t":409},{"p":8,"a":88.25,"t":396},{"p":8,"a":89.6,"t":388},{"p":8,"a":91,"t":382},{"p":8,"a":92.4,"t":389},{"p":8,"a":93.75,"t":397},{"p":8,"a":95.1,"t":409},{"p":8,"a":96.5,"t":415},{"p":8,"a":97.9,"t":407},{"p":8,"a":99.25,"t":398},{"p":8,"a":100.6,"t":388},{"p":8,"a":102,"t":378},{"p":8,"a":103.4,"t":373},{"p":8,"a":104.75,"t":375},
      {"p":9,"a":82,"t":446},{"p":9,"a":83.1,"t":434},{"p":9,"a":84.5,"t":437},{"p":9,"a":85.9,"t":435},{"p":9,"a":87.25,"t":425},{"p":9,"a":88.6,"t":412},{"p":9,"a":90,"t":406},{"p":9,"a":91.4,"t":414},{"p":9,"a":92.75,"t":423},{"p":9,"a":94.1,"t":432},{"p":9,"a":95.5,"t":440},{"p":9,"a":96.9,"t":434},{"p":9,"a":98.25,"t":425},{"p":9,"a":99.6,"t":411},{"p":9,"a":101,"t":407},{"p":9,"a":102.4,"t":405},{"p":9,"a":103.75,"t":404},
      {"p":10,"a":81.9,"t":472},{"p":10,"a":82.1,"t":460},{"p":10,"a":83.5,"t":464},{"p":10,"a":84.9,"t":461},{"p":10,"a":86.25,"t":447},{"p":10,"a":87.6,"t":437},{"p":10,"a":89,"t":434},{"p":10,"a":90.4,"t":436},{"p":10,"a":91.75,"t":448},{"p":10,"a":93.1,"t":460},{"p":10,"a":94.5,"t":462},{"p":10,"a":95.9,"t":461},{"p":10,"a":97.25,"t":448},{"p":10,"a":98.6,"t":436},{"p":10,"a":100,"t":433},{"p":10,"a":101.4,"t":435},{"p":10,"a":102.75,"t":436},{"p":10,"a":104.1,"t":440},
      {"p":11,"a":82,"t":500},{"p":11,"a":82.5,"t":488},{"p":11,"a":83.9,"t":486},{"p":11,"a":85.25,"t":473},{"p":11,"a":86.6,"t":460},{"p":11,"a":88,"t":458},{"p":11,"a":89.4,"t":462},{"p":11,"a":90.75,"t":475},{"p":11,"a":92.1,"t":483},{"p":11,"a":93.5,"t":489},{"p":11,"a":94.9,"t":485},{"p":11,"a":96.25,"t":471},{"p":11,"a":97.6,"t":462},{"p":11,"a":99,"t":459},{"p":11,"a":100.4,"t":461},{"p":11,"a":101.75,"t":469},{"p":11,"a":103.1,"t":472},{"p":11,"a":104.5,"t":466},
      {"p":12,"a":82,"t":523},{"p":12,"a":82.9,"t":511},{"p":12,"a":84.25,"t":498},{"p":12,"a":85.6,"t":486},{"p":12,"a":87,"t":483},{"p":12,"a":88.4,"t":487},{"p":12,"a":89.75,"t":496},{"p":12,"a":91.1,"t":510},{"p":12,"a":92.5,"t":514},{"p":12,"a":93.9,"t":511},{"p":12,"a":95.25,"t":497},{"p":12,"a":96.6,"t":487},{"p":12,"a":98,"t":483},{"p":12,"a":99.4,"t":485},{"p":12,"a":100.75,"t":498},{"p":12,"a":102.1,"t":503},{"p":12,"a":103.5,"t":499},{"p":12,"a":104.8,"t":485},
      {"p":13,"a":82,"t":535},{"p":13,"a":83.25,"t":523},{"p":13,"a":84.6,"t":513},{"p":13,"a":86,"t":505},{"p":13,"a":87.4,"t":512},{"p":13,"a":88.75,"t":525},{"p":13,"a":90.1,"t":533},{"p":13,"a":91.5,"t":539},{"p":13,"a":92.9,"t":536},{"p":13,"a":94.25,"t":523},{"p":13,"a":95.6,"t":511},{"p":13,"a":97,"t":508},{"p":13,"a":98.4,"t":512},{"p":13,"a":99.75,"t":521},{"p":13,"a":101.1,"t":534},{"p":13,"a":102.5,"t":530},{"p":13,"a":103.9,"t":516},
      {"p":14,"a":82,"t":561},{"p":14,"a":82.25,"t":549},{"p":14,"a":83.6,"t":537},{"p":14,"a":85,"t":534},{"p":14,"a":86.4,"t":536},{"p":14,"a":87.75,"t":548},{"p":14,"a":89.1,"t":560},{"p":14,"a":90.5,"t":562},{"p":14,"a":91.9,"t":559},{"p":14,"a":93.25,"t":550},{"p":14,"a":94.6,"t":536},{"p":14,"a":96,"t":532},{"p":14,"a":97.4,"t":538},{"p":14,"a":98.75,"t":548},{"p":14,"a":100.1,"t":557},{"p":14,"a":101.5,"t":562},{"p":14,"a":102.9,"t":548},{"p":14,"a":104.25,"t":531},
      {"p":15,"a":82,"t":574},{"p":15,"a":82.6,"t":562},{"p":15,"a":84,"t":556},{"p":15,"a":85.4,"t":564},{"p":15,"a":86.75,"t":573},{"p":15,"a":88.1,"t":583},{"p":15,"a":89.5,"t":590},{"p":15,"a":90.9,"t":584},{"p":15,"a":92.25,"t":575},{"p":15,"a":93.6,"t":561},{"p":15,"a":95,"t":557},{"p":15,"a":96.4,"t":563},{"p":15,"a":97.75,"t":571},{"p":15,"a":99.1,"t":584},{"p":15,"a":100.5,"t":590},{"p":15,"a":101.9,"t":579},{"p":15,"a":103.25,"t":559},{"p":15,"a":104.6,"t":542},{"p":15,"a":104.8,"t":596}
    ],
    "thick": [
      {"a":104.9,"t":297.9},{"a":102.6,"t":304.7},{"a":101.7,"t":316.6},{"a":100.6,"t":321.3},{"a":98.8,"t":316.6},{"a":96.6,"t":311.4},{"a":95,"t":313.5},{"a":92.1,"t":323.9},{"a":90.3,"t":334.3},{"a":88.5,"t":335.9},{"a":87.7,"t":321.8},{"a":85.7,"t":313.5},{"a":83.5,"t":316.6},{"a":82.4,"t":321.8},{"a":82.1,"t":327},{"a":81.3,"t":318.7},{"a":79.9,"t":316.6},{"a":79.7,"t":325.5},{"a":79,"t":327},{"a":78.7,"t":318.7},{"a":77.9,"t":318.7},{"a":77.5,"t":330.7},{"a":76,"t":339.5},{"a":74.6,"t":347.8},{"a":73.3,"t":360.8},{"a":72.5,"t":351.4},{"a":71.5,"t":344.7},{"a":70.1,"t":344.7},{"a":68.7,"t":351.4},{"a":64.9,"t":363.4},{"a":63,"t":370.7},{"a":61,"t":379},{"a":59.7,"t":386.2},{"a":58,"t":393},{"a":56,"t":389.4},{"a":53.7,"t":395.6},{"a":51.5,"t":396.6},{"a":50.6,"t":404.4},{"a":49.2,"t":407},{"a":47.7,"t":401.8},{"a":44,"t":389.4},{"a":42.5,"t":382.6},{"a":40.7,"t":370.7},{"a":39.6,"t":358.2},{"a":38.7,"t":355.1},{"a":35,"t":347.8},{"a":33,"t":336.9},{"a":30,"t":330.7}
    ],
    "arrow": [
      {"id":"A","u":-0.17,"a":91.45},{"id":"A","u":3.45,"a":87.65},
      {"id":"B","u":-0.13,"a":75.6},{"id":"B","u":3.47,"a":72.2},
      {"id":"C","u":4.24,"a":96.4},{"id":"C","u":7.78,"a":89.4}
    ],
    "tip": [
      {"id":"A","u":3.45,"a":87.65},
      {"id":"B","u":3.47,"a":72.2},
      {"id":"C","u":7.78,"a":89.4}
    ]
  },
  "resolve": {
    "scale": {"x": "independent"},
    "axis": {"x": "independent", "y": "independent"}
  },
  "layer": [
    {
      "data": {"name": "dot"},
      "mark": {"type": "line", "color": "#111111", "strokeWidth": 1.3, "strokeDash": [1.3, 5.5], "interpolate": "catmull-rom", "clip": true},
      "encoding": {
        "x": {"field": "t", "type": "quantitative", "scale": {"domain": [180, 700], "nice": false, "zero": false},
              "axis": {"orient": "top", "values": [200, 300, 400, 500, 600, 700], "tickSize": -7, "tickWidth": 2, "labelPadding": 17, "title": "Temperature [K]", "titlePadding": 4}},
        "y": {"field": "a", "type": "quantitative", "scale": {"domain": [30, 110], "nice": false, "zero": false},
              "axis": {"orient": "left", "values": [40, 60, 80, 100], "tickSize": -20, "tickWidth": 2.5, "labelPadding": 26, "title": "Altitude [km]", "titlePadding": 22}},
        "detail": {"field": "p"},
        "order": {"field": "a", "type": "quantitative"}
      }
    },
    {
      "data": {"name": "dash"},
      "mark": {"type": "line", "color": "#111111", "strokeWidth": 1.2, "strokeDash": [9, 12], "interpolate": "catmull-rom", "clip": true},
      "encoding": {
        "x": {"field": "t", "type": "quantitative", "scale": {"domain": [180, 700], "nice": false, "zero": false},
              "axis": {"orient": "top", "values": [180,190,200,210,220,230,240,250,260,270,280,290,300,310,320,330,340,350,360,370,380,390,400,410,420,430,440,450,460,470,480,490,500,510,520,530,540,550,560,570,580,590,600,610,620,630,640,650,660,670,680,690,700], "tickSize": -4, "tickWidth": 1.5, "labels": false, "title": null}},
        "y": {"field": "a", "type": "quantitative", "scale": {"domain": [30, 110], "nice": false, "zero": false},
              "axis": {"orient": "left", "values": [30,35,40,45,50,55,60,65,70,75,80,85,90,95,100,105,110], "tickSize": -10, "tickWidth": 2.5, "labels": false, "title": null}},
        "detail": {"field": "p"},
        "order": {"field": "a", "type": "quantitative"}
      }
    },
    {
      "data": {"name": "lower"},
      "mark": {"type": "line", "color": "#111111", "strokeWidth": 1.2, "clip": true},
      "encoding": {
        "x": {"field": "t", "type": "quantitative", "scale": {"domain": [180, 700], "nice": false, "zero": false}, "axis": null},
        "y": {"field": "a", "type": "quantitative", "scale": {"domain": [30, 110], "nice": false, "zero": false},
              "axis": {"orient": "right", "values": [40, 60, 80, 100], "tickSize": -20, "tickWidth": 2.5, "labels": false, "title": null}},
        "detail": {"field": "p"},
        "order": {"field": "a", "type": "quantitative"}
      }
    },
    {
      "data": {"name": "upper"},
      "mark": {"type": "line", "color": "#111111", "strokeWidth": 1.2, "interpolate": "catmull-rom", "clip": true},
      "encoding": {
        "x": {"field": "t", "type": "quantitative", "scale": {"domain": [180, 700], "nice": false, "zero": false}, "axis": null},
        "y": {"field": "a", "type": "quantitative", "scale": {"domain": [30, 110], "nice": false, "zero": false},
              "axis": {"orient": "right", "values": [30,35,40,45,50,55,60,65,70,75,80,85,90,95,100,105,110], "tickSize": -10, "tickWidth": 2.5, "labels": false, "title": null}},
        "detail": {"field": "p"},
        "order": {"field": "a", "type": "quantitative"}
      }
    },
    {
      "data": {"name": "thick"},
      "mark": {"type": "line", "color": "#111111", "strokeWidth": 4.8, "strokeJoin": "round", "clip": true},
      "encoding": {
        "x": {"field": "t", "type": "quantitative", "scale": {"domain": [180, 700], "nice": false, "zero": false}, "axis": null},
        "y": {"field": "a", "type": "quantitative", "scale": {"domain": [30, 110], "nice": false, "zero": false}, "axis": null},
        "order": {"field": "a", "type": "quantitative"}
      }
    },
    {
      "data": {"name": "arrow"},
      "mark": {"type": "line", "color": "#F28A2E", "strokeWidth": 3.5},
      "encoding": {
        "x": {"field": "u", "type": "quantitative", "scale": {"domain": [-0.4, 10], "nice": false, "zero": false},
              "axis": {"orient": "bottom", "values": [0,1,2,3,4,5,6,7,8,9,10], "tickSize": -6, "tickWidth": 2, "labelPadding": 24, "title": "UT [h]", "titlePadding": 8}},
        "y": {"field": "a", "type": "quantitative", "scale": {"domain": [30, 110], "nice": false, "zero": false}, "axis": null},
        "detail": {"field": "id"}
      }
    },
    {
      "data": {"name": "tip"},
      "mark": {"type": "point", "shape": "M0,0L-2,-0.7L-1.6,0L-2,0.7Z", "filled": true, "opacity": 1, "color": "#F28A2E", "size": 256, "strokeWidth": 0},
      "encoding": {
        "x": {"field": "u", "type": "quantitative", "scale": {"domain": [-0.4, 10], "nice": false, "zero": false},
              "axis": {"orient": "bottom", "values": [-0.4,-0.2,0,0.2,0.4,0.6,0.8,1,1.2,1.4,1.6,1.8,2,2.2,2.4,2.6,2.8,3,3.2,3.4,3.6,3.8,4,4.2,4.4,4.6,4.8,5,5.2,5.4,5.6,5.8,6,6.2,6.4,6.6,6.8,7,7.2,7.4,7.6,7.8,8,8.2,8.4,8.6,8.8,9,9.2,9.4,9.6,9.8,10], "tickSize": -3.5, "tickWidth": 1.5, "labels": false, "title": null}},
        "y": {"field": "a", "type": "quantitative", "scale": {"domain": [30, 110], "nice": false, "zero": false}, "axis": null},
        "angle": {"condition": {"test": "datum.id === 'C'", "value": 5.2}, "value": 2.7}
      }
    }
  ]
}
